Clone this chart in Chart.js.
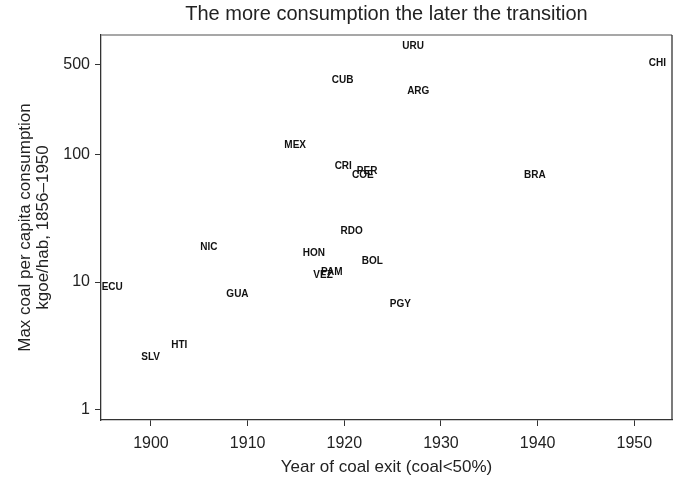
<!DOCTYPE html>
<html>
<head>
<meta charset="utf-8">
<script src="https://cdn.jsdelivr.net/npm/chart.js@4.4.1/dist/chart.umd.min.js"></script>
<style>
  html, body { margin: 0; padding: 0; background: #fff; }
  #wrap { width: 679px; height: 479px; }
</style>
</head>
<body>
<div id="wrap"><canvas id="grafico" width="679" height="479"></canvas></div>
<script>
// dados
const paises = ['ECU', 'SLV', 'HTI', 'NIC', 'GUA', 'MEX', 'HON', 'VEZ', 'PAM', 'CUB', 'CRI', 'RDO',
                'COE', 'PER', 'BOL', 'PGY', 'URU', 'ARG', 'BRA', 'CHI'];
const anoSaida = [1894.9, 1899.0, 1902.1, 1905.1, 1907.8, 1913.8, 1915.7, 1916.8, 1917.6, 1918.7, 1919.0, 1919.6,
                  1920.8, 1921.3, 1921.8, 1924.7, 1926.0, 1926.5, 1938.6, 1951.5];
const maxCarvao = [9.1, 2.6, 3.2, 18.7, 8.0, 118, 16.9, 11.3, 11.9, 378, 80, 25.2,
                   68, 73, 14.6, 6.7, 700, 310, 68, 517];
const ticksX = [1900, 1910, 1920, 1930, 1940, 1950];
const ticksY = [1, 10, 100, 500];
const titulo = 'The more consumption the later the transition';

const FONTE = "'Liberation Sans', Arial, Helvetica, sans-serif";
const COR_TEXTO = '#222';
const COR_EIXO = '#333';

// rótulos de texto no lugar dos marcadores
const pluginRotulos = {
    id: 'rotulos',
    afterDatasetsDraw(chart) {
        const ctx = chart.ctx;
        const meta = chart.getDatasetMeta(0);
        ctx.save();
        ctx.font = 'bold 10px ' + FONTE;
        ctx.fillStyle = '#111';
        ctx.textAlign = 'left';
        ctx.textBaseline = 'middle';
        meta.data.forEach((pt, i) => {
            ctx.fillText(paises[i], pt.x, pt.y);
        });
        ctx.restore();
    }
};

// moldura de cima e da direita + título centrado na área do gráfico
const pluginMoldura = {
    id: 'moldura',
    afterDraw(chart) {
        const { ctx, chartArea: a } = chart;
        ctx.save();
        ctx.lineWidth = 1.5;
        ctx.strokeStyle = '#8a8a8a';
        ctx.beginPath();
        ctx.moveTo(a.left, a.top);
        ctx.lineTo(a.right, a.top);
        ctx.stroke();
        ctx.strokeStyle = COR_EIXO;
        ctx.lineWidth = 1.3;
        ctx.beginPath();
        ctx.moveTo(a.right, a.top);
        ctx.lineTo(a.right, a.bottom);
        ctx.stroke();

        ctx.font = '20px ' + FONTE;
        ctx.fillStyle = COR_TEXTO;
        ctx.textAlign = 'center';
        ctx.textBaseline = 'middle';
        ctx.fillText(titulo, (a.left + a.right) / 2, a.top - 21);
        ctx.restore();
    }
};

const pontos = anoSaida.map((ano, i) => ({ x: ano, y: maxCarvao[i] }));

new Chart(document.getElementById('grafico'), {
    type: 'scatter',
    data: {
        datasets: [{
            label: 'Países',
            data: pontos,
            pointRadius: 0,
            pointHoverRadius: 0
        }]
    },
    options: {
        responsive: false,
        animation: false,
        layout: { padding: { left: 0, right: 7, top: 35, bottom: 0 } },
        plugins: {
            legend: { display: false },
            tooltip: { enabled: false },
            title: { display: false }
        },
        scales: {
            x: {
                type: 'linear',
                position: 'bottom',
                min: 1894.83,
                max: 1953.9,
                afterBuildTicks: (s) => { s.ticks = ticksX.map(v => ({ value: v })); },
                afterFit: (s) => { s.height = 59; },
                grid: { drawOnChartArea: false, drawTicks: true, tickLength: 6, color: COR_EIXO, lineWidth: 1 },
                border: { display: true, color: COR_EIXO, width: 1.3 },
                ticks: {
                    color: COR_TEXTO,
                    padding: 8,
                    maxRotation: 0,
                    font: { family: FONTE, size: 16 },
                    callback: (v) => String(v)
                },
                title: {
                    display: true,
                    text: 'Year of coal exit (coal<50%)',
                    color: COR_TEXTO,
                    font: { family: FONTE, size: 17, lineHeight: 1.2 },
                    padding: { top: 0, bottom: 1 }
                }
            },
            y: {
                type: 'logarithmic',
                position: 'left',
                min: 0.835,
                max: 855,
                afterBuildTicks: (s) => { s.ticks = ticksY.map(v => ({ value: v })); },
                afterFit: (s) => { s.width = 101; },
                grid: { drawOnChartArea: false, drawTicks: true, tickLength: 6, color: COR_EIXO, lineWidth: 1 },
                border: { display: true, color: COR_EIXO, width: 1.3 },
                ticks: {
                    color: COR_TEXTO,
                    padding: 5,
                    font: { family: FONTE, size: 16 },
                    callback: (v) => String(v)
                },
                title: {
                    display: true,
                    text: ['Max coal per capita consumption', 'kgoe/hab, 1856\u20131950'],
                    color: COR_TEXTO,
                    font: { family: FONTE, size: 17, lineHeight: 1.06 },
                    padding: { top: 16, bottom: 0 }
                }
            }
        }
    },
    plugins: [pluginRotulos, pluginMoldura]
});
</script>
</body>
</html>
